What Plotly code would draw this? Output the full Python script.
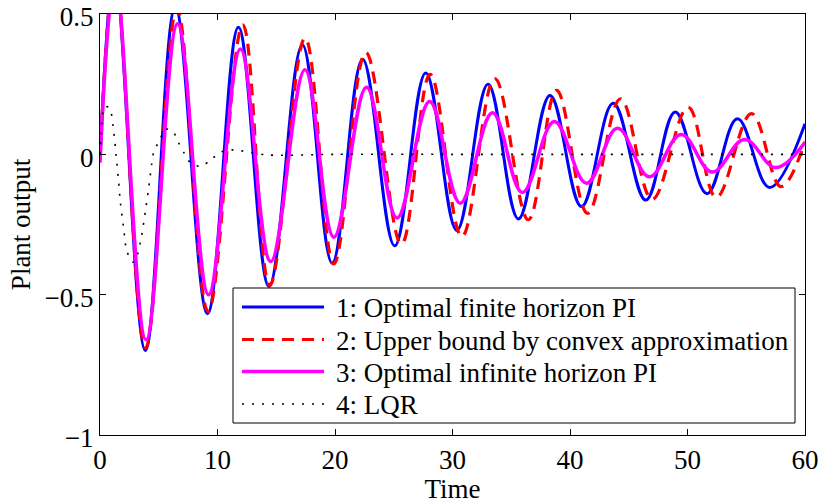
import plotly.graph_objects as go

# ---- data (extrema of each response) ----
t_pi = [0.0, 1.25, 3.86, 6.41, 9.15, 11.78, 14.39, 17.22, 19.76, 22.35, 25.08,
        27.72, 30.37, 33.02, 35.61, 38.3, 40.98, 43.68, 46.45, 48.95, 51.66,
        54.25, 56.98, 60.0]
y_pi = [-0.02, 0.64, -0.699, 0.525, -0.568, 0.453, -0.471, 0.39, -0.388, 0.339,
        -0.326, 0.29, -0.271, 0.25, -0.23, 0.21, -0.186, 0.182, -0.163, 0.151,
        -0.14, 0.127, -0.118, 0.109]

t_ub = [0.0, 1.27, 3.88, 6.55, 9.2, 12.15, 14.45, 17.45, 19.9, 22.62, 25.65,
        28.1, 30.8, 33.6, 36.45, 38.86, 41.5, 44.3, 47.0, 50.05, 52.45,
        55.45, 57.95, 60.0]
y_ub = [-0.02, 0.64, -0.69, 0.52, -0.56, 0.461, -0.467, 0.414, -0.39, 0.363,
        -0.32, 0.285, -0.293, 0.27, -0.233, 0.228, -0.21, 0.198, -0.16, 0.168,
        -0.153, 0.145, -0.115, 0.045]

t_inf = [0.0, 1.3, 3.92, 6.6, 9.24, 11.95, 14.53, 17.44, 19.9, 22.68, 25.28,
         28.05, 30.66, 33.4, 35.95, 38.67, 41.41, 44.04, 46.75, 49.45, 52.1,
         54.85, 57.5, 60.0]
y_inf = [-0.03, 0.62, -0.661, 0.465, -0.50, 0.375, -0.382, 0.301, -0.295, 0.239,
         -0.227, 0.188, -0.174, 0.148, -0.136, 0.117, -0.103, 0.093, -0.08, 0.071,
         -0.063, 0.053, -0.047, 0.043]

t_lqr = [0.0, 0.1, 0.38, 0.81, 1.17, 1.37, 1.57, 1.74, 2.0, 2.28, 2.79, 3.07,
         3.55, 3.86, 4.15, 4.4, 4.57, 5.05, 5.6, 6.24, 6.69, 7.17, 7.74, 8.59,
         9.44, 10.3, 11.3, 14.2, 20.0, 30.0, 40.0, 50.0, 60.0]
y_lqr = [0.0, 0.06, 0.17, 0.165, 0.079, -0.004, -0.091, -0.174, -0.259, -0.344,
         -0.384, -0.372, -0.288, -0.202, -0.119, -0.034, 0.008, 0.049, 0.09,
         0.079, 0.041, 0.004, -0.032, -0.043, -0.019, 0.008, 0.016, -0.002,
         0.0, 0.0, 0.0, 0.0, 0.0]

names = ["1: Optimal finite horizon PI",
         "2: Upper bound by convex approximation",
         "3: Optimal infinite horizon PI",
         "4: LQR"]

x_ticks = [0, 10, 20, 30, 40, 50, 60]
y_ticks = [-1, -0.5, 0, 0.5]
y_ticktext = ["\u22121", "\u22120.5", "0", "0.5"]

FONT = "Liberation Serif"
FS = 27

styles = [
    dict(color="#0000ff", width=3),
    dict(color="#ff0000", width=3.2, dash="12px,8px"),
    dict(color="#ff00ff", width=3.5),
    dict(color="#000000", width=1.6, dash="2px,8px"),
]

fig = go.Figure()
for (tx, ty, nm, st, sm) in [(t_pi, y_pi, names[0], styles[0], 1.1),
                             (t_ub, y_ub, names[1], styles[1], 1.1),
                             (t_inf, y_inf, names[2], styles[2], 1.1),
                             (t_lqr, y_lqr, names[3], styles[3], 0.8)]:
    fig.add_trace(go.Scatter(x=tx, y=ty, mode="lines", name=nm, showlegend=False,
                             line=dict(shape="spline", smoothing=sm, **st)))

axis_common = dict(showline=True, linecolor="black", linewidth=1.2, mirror="ticks",
                   ticks="inside", ticklen=6, tickwidth=1, tickcolor="black",
                   showgrid=False, zeroline=False, automargin=False,
                   ticklabeloverflow="allow",
                   tickfont=dict(family=FONT, size=FS, color="black"))

fig.update_xaxes(range=[0, 60], tickvals=x_ticks,
                 title=dict(text="Time", font=dict(family=FONT, size=FS, color="black"),
                            standoff=2),
                 **axis_common)
fig.update_yaxes(range=[-1, 0.5], tickvals=y_ticks, ticktext=y_ticktext,
                 ticklabelshift=3,
                 title=dict(text="Plant output", font=dict(family=FONT, size=FS, color="black"),
                            standoff=6),
                 **axis_common)

# ---- legend box drawn in paper coordinates (MATLAB-style) ----
L, R, T, B = 100.0, 805.0, 14.0, 435.0
W, H = R - L, B - T
px = lambda v: (v - L) / W
py = lambda v: (B - v) / H

shapes = [dict(type="rect", xref="paper", yref="paper", layer="above",
               x0=px(233), x1=px(795), y0=py(423), y1=py(288),
               fillcolor="white", line=dict(color="black", width=1))]
annotations = []
row_y = [307, 339.5, 371.5, 404]
for i in range(4):
    st = dict(styles[i])
    shapes.append(dict(type="line", xref="paper", yref="paper", layer="above",
                       x0=px(242), x1=px(324), y0=py(row_y[i]), y1=py(row_y[i]),
                       line=st))
    annotations.append(dict(text=names[i], xref="paper", yref="paper",
                            x=px(334), y=py(row_y[i] + 1), xanchor="left", yanchor="middle",
                            showarrow=False,
                            font=dict(family=FONT, size=FS, color="black")))

fig.update_layout(
    width=820, height=504,
    margin=dict(l=100, r=15, t=14, b=69),
    plot_bgcolor="white", paper_bgcolor="white",
    font=dict(family=FONT, size=FS, color="black"),
    showlegend=False,
    shapes=shapes, annotations=annotations,
)

fig.write_html("out.html")
